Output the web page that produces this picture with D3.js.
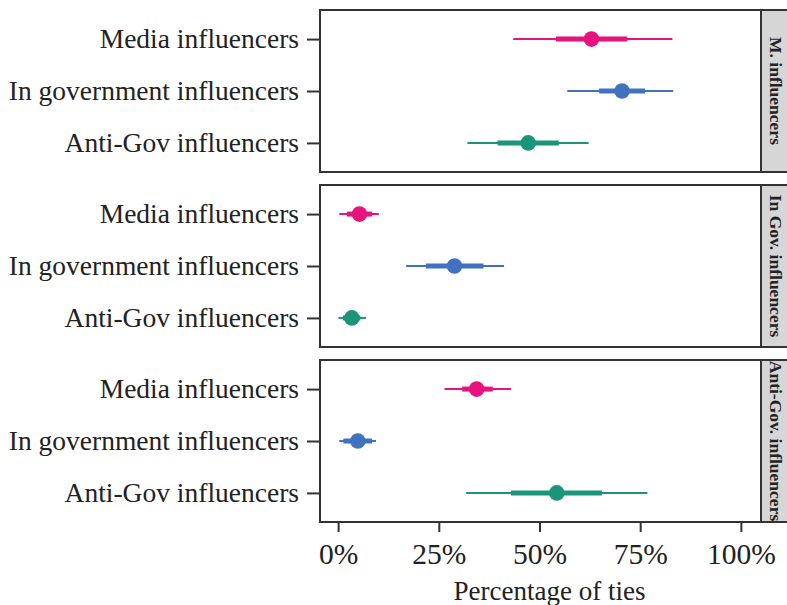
<!DOCTYPE html>
<html>
<head>
<meta charset="utf-8">
<script src="https://cdn.jsdelivr.net/npm/d3@7"></script>
<style>
  body { margin: 0; background: #fff; }
  svg { display: block; }
</style>
</head>
<body>
<div id="chart"></div>
<script>
// rows inside every panel, top to bottom
const categories = ["Media influencers", "In government influencers", "Anti-Gov influencers"];
// facet strips, top to bottom
const panels = ["M. influencers", "In Gov. influencers", "Anti-Gov. influencers"];
const colors = ["#e8127f", "#4072c0", "#1b957a"];

// percentages, one row per panel, one value per category
const estimate = [[62.9, 70.5, 47.2], [5.3, 28.9, 3.4], [34.4, 4.9, 54.3]];
const lower66 = [[54.1, 64.8, 39.6], [2.2, 21.8, 1.2], [30.8, 1.3, 42.9]];
const upper66 = [[71.8, 76.2, 54.8], [8.4, 36.1, 5.5], [38.4, 8.4, 65.5]];
const lower95 = [[43.5, 56.9, 32.1], [0.3, 16.9, 0.1], [26.4, 0.3, 31.8]];
const upper95 = [[83.0, 83.2, 62.2], [10.1, 41.2, 6.9], [42.9, 9.4, 76.8]];
const xTicks = [0, 25, 50, 75, 100];

const width = 787, height = 605;
const marginLeft = 320, marginRight = 761, stripW = 30;
const panelH = 162, panelStep = 175, panelTop = 10;
const font = "'Liberation Serif', 'Times New Roman', serif";

const svg = d3.select("#chart").append("svg")
    .attr("width", width)
    .attr("height", height)
    .style("font-family", font);

const x = d3.scaleLinear()
    .domain([-4.5, 105])
    .range([marginLeft, marginRight]);

const y = d3.scalePoint()
    .domain(categories)
    .range([0, panelH])
    .padding(0.56);

panels.forEach((name, p) => {
    const g = svg.append("g").attr("transform", `translate(0,${panelTop + p * panelStep})`);

    const rows = categories.map((c, i) => ({
        cat: c, color: colors[i],
        est: estimate[p][i],
        lo66: lower66[p][i], hi66: upper66[p][i],
        lo95: lower95[p][i], hi95: upper95[p][i]
    }));

    g.append("rect")
        .attr("x", marginLeft).attr("y", 0)
        .attr("width", marginRight - marginLeft).attr("height", panelH)
        .attr("fill", "#fff");

    g.selectAll(".thin").data(rows).enter().append("line")
        .attr("x1", d => x(d.lo95)).attr("x2", d => x(d.hi95))
        .attr("y1", d => y(d.cat)).attr("y2", d => y(d.cat))
        .attr("stroke", d => d.color).attr("stroke-width", 2);

    g.selectAll(".thick").data(rows).enter().append("line")
        .attr("x1", d => x(d.lo66)).attr("x2", d => x(d.hi66))
        .attr("y1", d => y(d.cat)).attr("y2", d => y(d.cat))
        .attr("stroke", d => d.color).attr("stroke-width", 5);

    g.selectAll("circle").data(rows).enter().append("circle")
        .attr("cx", d => x(d.est)).attr("cy", d => y(d.cat))
        .attr("r", 7.8).attr("fill", d => d.color);

    // y axis
    const ya = g.append("g")
        .attr("transform", `translate(${marginLeft},0)`)
        .call(d3.axisLeft(y).tickSize(13).tickPadding(8));
    ya.select(".domain").remove();
    ya.selectAll(".tick line").attr("stroke", "#333").attr("stroke-width", 2);
    ya.selectAll(".tick text").attr("fill", "#222").style("font-size", "27.5px")
        .style("font-family", font);

    // panel border
    g.append("rect")
        .attr("x", marginLeft).attr("y", 0)
        .attr("width", marginRight - marginLeft).attr("height", panelH)
        .attr("fill", "none").attr("stroke", "#333").attr("stroke-width", 2);

    // strip
    g.append("rect")
        .attr("x", marginRight).attr("y", 0)
        .attr("width", stripW).attr("height", panelH)
        .attr("fill", "#d6d6d6").attr("stroke", "#333").attr("stroke-width", 2);
    g.append("text")
        .attr("transform", `translate(${marginRight + 15},${panelH / 2}) rotate(90)`)
        .attr("text-anchor", "middle")
        .attr("dominant-baseline", "central")
        .attr("fill", "#222")
        .style("font-weight", "bold")
        .style("font-size", "17.5px")
        .text(name);

    if (p === panels.length - 1) {
        const xa = g.append("g")
            .attr("transform", `translate(0,${panelH})`)
            .call(d3.axisBottom(x).tickValues(xTicks).tickFormat(d => d + "%").tickSize(10).tickPadding(11));
        xa.select(".domain").remove();
        xa.selectAll(".tick line").attr("stroke", "#333").attr("stroke-width", 2);
        xa.selectAll(".tick text").attr("fill", "#222").style("font-size", "29.5px")
            .style("font-family", font);
    }
});

svg.append("text")
    .attr("x", x(52.5)).attr("y", 600)
    .attr("text-anchor", "middle")
    .attr("fill", "#222")
    .style("font-size", "27px")
    .text("Percentage of ties");
</script>
</body>
</html>
